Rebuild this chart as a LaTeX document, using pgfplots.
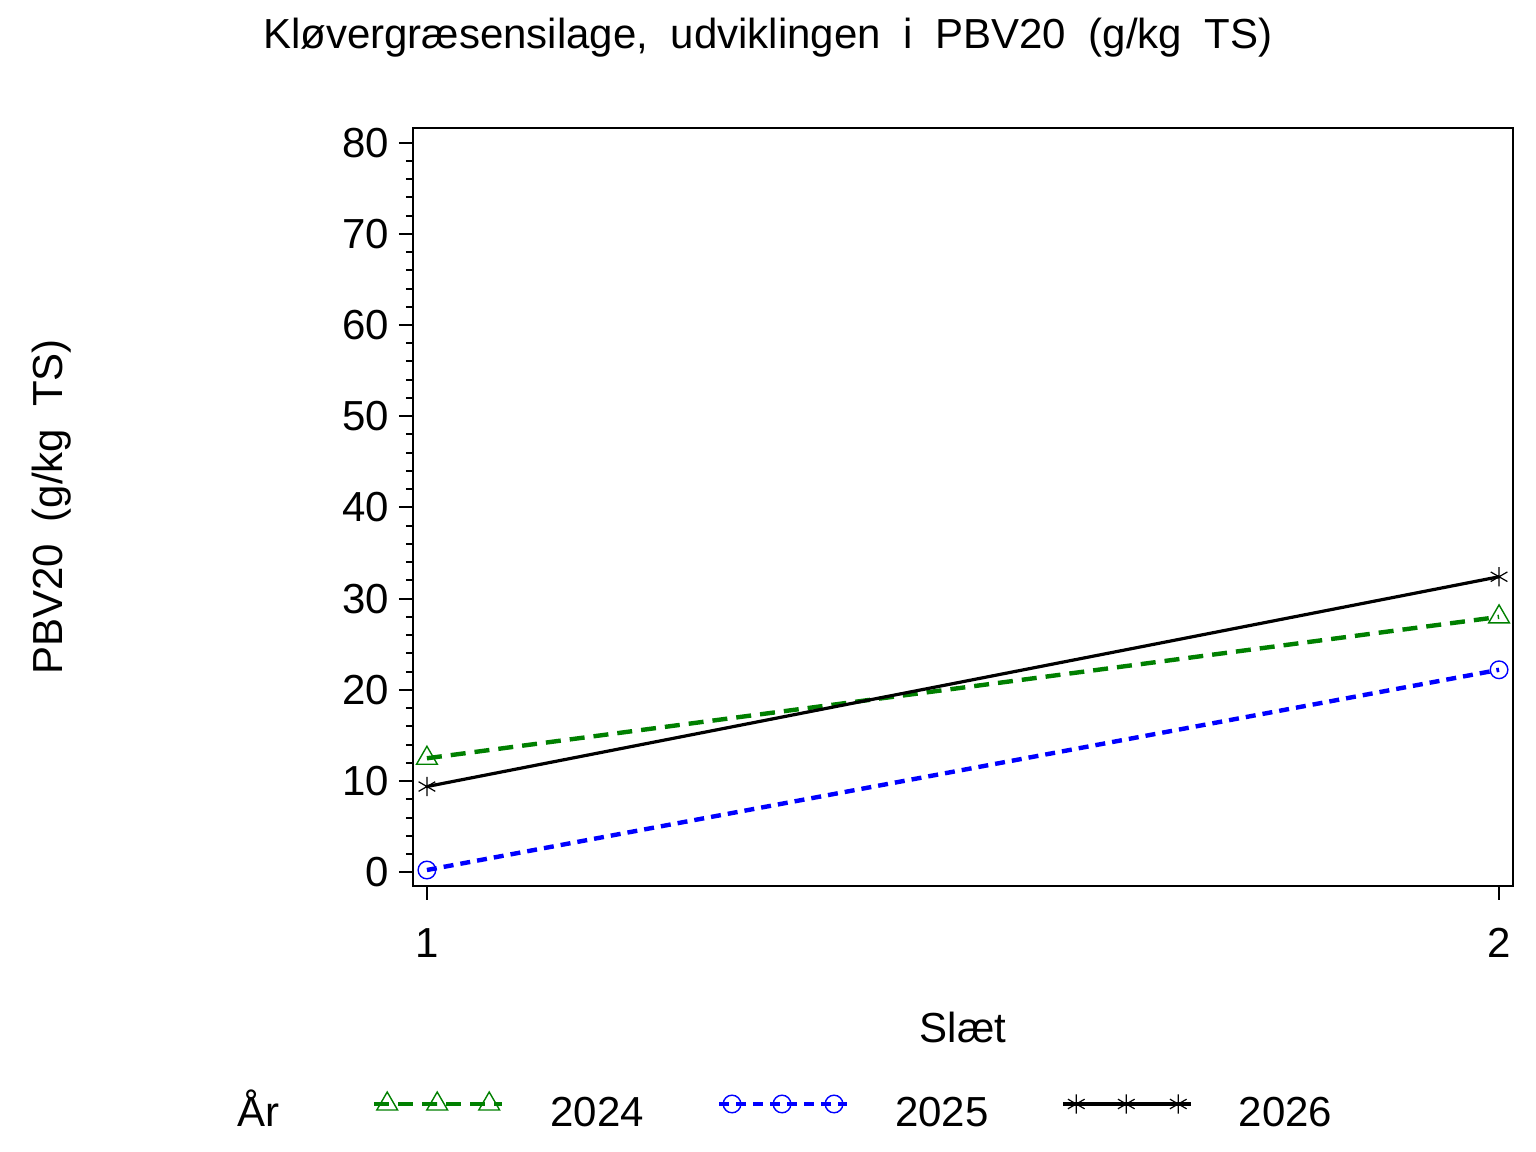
\documentclass[border=0pt]{standalone}
\usepackage{fontspec}
\setmainfont{Liberation Sans}
\usepackage{pgfplots}
\pgfplotsset{compat=1.18}
\definecolor{sasgreen}{RGB}{0,128,0}
\definecolor{sasblue}{RGB}{0,0,255}
\newcommand\fs{\fontsize{10.5}{12.6}\selectfont}
\newcommand\fstitle{\fontsize{10.5}{12.6}\selectfont\spaceskip 5.65pt\relax}
\newcommand\fsylab{\fontsize{10.5}{12.6}\selectfont\spaceskip 5.5pt\relax}
\begin{document}
\begin{tikzpicture}
\useasboundingbox (0,0) rectangle (384pt,288pt);
\begin{axis}[
  at={(103.25pt,66.5pt)}, anchor=south west,
  scale only axis, width=275pt, height=189.5pt,
  xmin=0.987, xmax=2.013, ymin=-1.5, ymax=81.6,
  xtick={1,2}, ytick={0,10,...,80}, minor y tick num=4,
  tick align=outside, tick pos=left,
  major tick length=3.5pt, minor tick length=1.75pt,
  axis line style={line width=0.5pt},
  every tick/.style={black, line width=0.5pt},
  tick label style={font=\fs},
  xticklabel style={yshift=-3.5pt},
  yticklabel style={xshift=1pt},
  /pgf/number format/assume math mode=true,
  title={Kløvergræsensilage, udviklingen i PBV20 (g/kg TS)},
  title style={font=\fstitle, at={(axis description cs:0.3227,1)}, anchor=base, yshift=13.75pt, inner sep=0pt},
  xlabel={Slæt},
  xlabel style={font=\fs, at={(axis description cs:0.5,0)}, anchor=base, yshift=-39.25pt, inner sep=0pt},
  ylabel={PBV20 (g/kg TS)},
  ylabel style={font=\fsylab, at={(axis description cs:0,0.5)}, anchor=base, yshift=87.5pt, inner sep=0pt},
  legend image code/.code={\draw[mark repeat=2, mark phase=2, #1] plot coordinates {(0pt,5.7pt) (3.25pt,5.7pt) (9.5pt,5.7pt) (15.75pt,5.7pt) (22.25pt,5.7pt) (28.75pt,5.7pt) (32pt,5.7pt)};},
  legend columns=-1,
  legend style={draw=none, fill=none, inner sep=0pt, outer sep=0pt,
    at={(axis description cs:-0.2018,-0.3256)}, anchor=south west,
    font=\fs, cells={anchor=base west}, nodes={inner sep=0pt},
    /tikz/every odd column/.style={column sep=11.5pt},
    /tikz/every even column/.style={column sep=18.25pt}},
]
\addlegendimage{empty legend}
\addlegendentry{År\kern5pt\null}
\addplot[sasgreen, line width=1.1pt, dash pattern=on 3.75pt off 2.25pt, mark=triangle, mark size=3pt, mark options={solid, line width=0.35pt}]
  coordinates {(1,12.5) (2,28.0)};
\addlegendentry{2024}
\addplot[sasblue, line width=1.1pt, dash pattern=on 2.5pt off 1.75pt, mark=o, mark size=2.2pt, mark options={solid, line width=0.35pt}]
  coordinates {(1,0.25) (2,22.2)};
\addlegendentry{2025}
\addplot[black, line width=0.8pt, solid, mark=asterisk, mark size=2.4pt, mark options={solid, line width=0.3pt}]
  coordinates {(1,9.4) (2,32.4)};
\addlegendentry{2026}
\end{axis}
\end{tikzpicture}
\end{document}
